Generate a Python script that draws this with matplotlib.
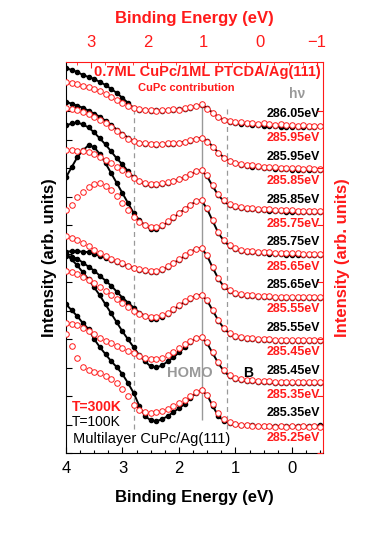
import matplotlib.pyplot as plt
from matplotlib.ticker import MultipleLocator

plt.rcParams["font.family"] = ["Liberation Sans", "DejaVu Sans"]

# binding energy grid (eV) of the sampled points
energy = [4.0, 3.9, 3.8, 3.7, 3.6, 3.5, 3.4, 3.3, 3.2, 3.1, 3.0, 2.9, 2.8, 2.7, 2.6,
          2.5, 2.4, 2.3, 2.2, 2.1, 2.0, 1.9, 1.8, 1.7, 1.6, 1.5, 1.4, 1.3, 1.2, 1.1,
          1.0, 0.9, 0.8, 0.7, 0.6, 0.5, 0.4, 0.3, 0.2, 0.1, 0.0, -0.1, -0.2, -0.3,
          -0.4, -0.5]

# photon energies, black = T=100K, red = T=300K
hv_black = ["286.05eV", "285.95eV", "285.85eV", "285.75eV",
            "285.65eV", "285.55eV", "285.45eV", "285.35eV"]
hv_red = ["285.95eV", "285.85eV", "285.75eV", "285.65eV",
          "285.55eV", "285.45eV", "285.35eV", "285.25eV"]

# vertical offset of each pair (arb. units)
offsets = [11.44, 9.94, 8.44, 6.94, 5.44, 3.94, 2.44, 0.94]

# intensities relative to the flat tail (arb. units x 28.5)
black_1 = [59, 57, 55, 52, 50, 48, 45, 42, 38, 34, 29, 24, 19, 17, 17, 16, 17, 16, 17, 17,
           18, 18, 19, 21, 22, 19, 14, 10, 7, 5, 4, 3, 3, 2, 2, 1, 1, 1, 0, 0, 0, 0, 0, 0, 0, 1]
red_1 = [45, 44, 43, 41, 40, 38, 36, 33, 30, 27, 24, 21, 19, 18, 17, 17, 16, 17, 17, 18,
         17, 19, 20, 21, 23, 18, 14, 10, 7, 6, 5, 5, 4, 4, 3, 4, 3, 2, 3, 2, 2, 1, 2, 1, 1, 1]
black_2 = [68, 66, 64, 62, 59, 56, 53, 49, 45, 40, 36, 32, 29, 27, 26, 26, 25, 26, 26, 26,
           27, 28, 29, 31, 32, 29, 23, 17, 12, 9, 7, 5, 4, 3, 3, 2, 2, 1, 1, 1, 0, 0, 0, 0, 0, 0]
red_2 = [62, 61, 60, 58, 56, 53, 50, 47, 43, 39, 35, 31, 29, 27, 27, 26, 26, 26, 27, 27,
         27, 28, 30, 31, 32, 28, 23, 17, 12, 9, 7, 6, 5, 5, 4, 3, 3, 3, 2, 2, 2, 2, 1, 2, 1, 1]
black_3 = [87, 89, 90, 88, 85, 80, 74, 68, 61, 54, 48, 41, 35, 31, 28, 27, 27, 28, 29, 31,
           33, 35, 38, 41, 42, 36, 26, 17, 11, 7, 5, 4, 3, 3, 2, 2, 1, 1, 1, 0, 0, 0, 0, 0, 0, 0]
red_3 = [62, 62, 61, 61, 60, 58, 55, 52, 49, 45, 42, 38, 34, 31, 29, 28, 28, 29, 30, 31,
         33, 35, 38, 41, 42, 37, 27, 18, 12, 8, 6, 5, 4, 4, 3, 3, 3, 2, 2, 2, 2, 1, 1, 1, 1, 1]
black_4 = [78, 88, 98, 105, 110, 108, 101, 92, 82, 72, 62, 52, 42, 35, 30, 26, 26, 29, 33, 37,
           42, 46, 50, 54, 55, 46, 34, 22, 14, 9, 6, 4, 3, 3, 2, 2, 1, 1, 1, 0, 0, 0, 0, 0, 0, 0]
red_4 = [45, 50, 58, 63, 68, 71, 72, 69, 65, 59, 52, 45, 38, 33, 30, 28, 28, 30, 34, 38,
         42, 46, 50, 54, 55, 47, 35, 23, 15, 10, 7, 5, 4, 4, 3, 3, 3, 2, 2, 2, 2, 2, 1, 1, 1, 1]
black_5 = [46, 47, 47, 46, 46, 44, 42, 40, 38, 36, 34, 32, 30, 28, 27, 26, 26, 28, 31, 35,
           38, 42, 46, 49, 50, 42, 30, 19, 11, 7, 4, 3, 2, 2, 1, 1, 1, 0, 0, 0, 0, 0, 0, 0, 0, 0]
red_5 = [62, 60, 58, 55, 52, 48, 45, 42, 39, 37, 35, 32, 30, 29, 28, 27, 27, 29, 32, 35,
         39, 43, 46, 49, 50, 43, 31, 20, 12, 8, 5, 4, 3, 3, 2, 2, 2, 1, 1, 1, 1, 1, 1, 1, 1, 1]
black_6 = [85, 84, 82, 78, 74, 70, 65, 60, 55, 49, 43, 38, 33, 28, 25, 22, 22, 24, 27, 31,
           35, 39, 42, 45, 46, 40, 30, 20, 12, 7, 4, 3, 2, 2, 1, 1, 1, 0, 0, 0, 0, 0, 0, 0, 0, 0]
red_6 = [70, 69, 67, 64, 61, 58, 54, 50, 46, 42, 38, 34, 30, 27, 25, 24, 24, 26, 28, 32,
         36, 40, 43, 45, 46, 41, 31, 21, 13, 8, 5, 4, 3, 3, 2, 2, 2, 1, 1, 1, 1, 1, 1, 1, 1, 1]
black_7 = [129, 124, 118, 111, 104, 96, 88, 79, 70, 61, 52, 44, 36, 28, 22, 17, 16, 18, 22, 26,
           31, 36, 41, 45, 46, 40, 30, 20, 12, 7, 4, 3, 2, 2, 1, 1, 1, 0, 0, 0, 0, 0, 0, 0, 0, 0]
red_7 = [60, 59, 58, 55, 52, 49, 45, 42, 40, 37, 35, 32, 30, 27, 25, 24, 24, 25, 28, 31,
         35, 39, 42, 45, 46, 41, 31, 21, 13, 8, 5, 4, 3, 3, 2, 2, 2, 1, 1, 1, 1, 1, 1, 1, 1, 1]
black_8 = [122, 116, 110, 103, 97, 87, 79, 72, 65, 59, 52, 43, 33, 20, 10, 6, 5, 7, 10, 14,
           18, 22, 28, 33, 36, 31, 20, 10, 5, 3, 2, 1, 1, 1, 0, 0, 0, 0, 0, 0, 0, 0, 0, 0, 0, 1]
red_8 = [92, 80, 68, 59, 56, 54, 53, 50, 47, 43, 37, 30, 21, 16, 14, 13, 14, 15, 17, 20,
         23, 26, 30, 34, 36, 31, 22, 13, 7, 4, 2, 1, 1, 0, 0, 0, 0, -1, 0, -1, 0, -1, 0, -1, 0, -1]

black_curves = [black_1, black_2, black_3, black_4, black_5, black_6, black_7, black_8]
red_curves = [red_1, red_2, red_3, red_4, red_5, red_6, red_7, red_8]

SCALE = 1 / 28.5
RED = "#ff1a1a"
GRAY = "#999999"


def main():
    fig = plt.figure(figsize=(3.74, 5.45), dpi=100)
    ax = fig.add_axes([0.1765, 0.1688, 0.687, 0.7174])

    for off, blk, red in zip(offsets, black_curves, red_curves):
        ax.plot(energy, [off + v * SCALE for v in blk], color="black", lw=1.4,
                marker="o", ms=3.0, mec="black", mfc="black", zorder=3)
        ax.plot(energy, [off + v * SCALE for v in red], ls="none", marker="o",
                ms=4.0, mfc="white", mec=RED, mew=0.7, zorder=4)

    # guide lines
    ax.vlines([2.8, 1.15], 0.85, 12.1, colors=GRAY, linestyles=(0, (4, 3)), lw=0.9, zorder=1)
    ax.vlines([1.6], 1.15, 12.35, colors=GRAY, lw=1.0, zorder=1)

    ax.set_xlim(4.0, -0.55)
    ax.set_ylim(0, 13.72)
    ax.xaxis.set_minor_locator(MultipleLocator(0.25))
    ax.yaxis.set_major_locator(MultipleLocator(1))
    ax.set_yticklabels([])
    ax.tick_params(axis="both", which="both", direction="in", top=False, right=False,
                   labelsize=12, width=0.8)
    ax.tick_params(axis="x", pad=6)
    ax.tick_params(which="major", length=4)
    ax.tick_params(which="minor", length=2.5)
    ax.set_xticks([4, 3, 2, 1, 0])
    ax.set_xlabel("Binding Energy (eV)", fontsize=12, fontweight="bold", labelpad=10)
    ax.set_ylabel("Intensity (arb. units)", fontsize=12, fontweight="bold", labelpad=3)
    ax.spines["top"].set_color(RED)
    ax.spines["right"].set_color(RED)

    # top axis, shifted energy scale
    top = ax.twiny()
    top.set_xlim(3.44, -1.11)
    top.set_xticks([3, 2, 1, 0, -1])
    top.xaxis.set_minor_locator(MultipleLocator(0.25))
    top.tick_params(axis="x", which="both", direction="in", colors=RED, labelsize=12, pad=9)
    top.tick_params(which="major", length=4)
    top.tick_params(which="minor", length=2.5)
    top.set_xlabel("Binding Energy (eV)", fontsize=12, fontweight="bold", color=RED, labelpad=8)
    for s in top.spines.values():
        s.set_visible(False)

    # right axis
    right = ax.twinx()
    right.set_ylim(0, 13.72)
    right.yaxis.set_major_locator(MultipleLocator(2))
    right.set_yticklabels([])
    right.tick_params(axis="y", direction="in", colors=RED, length=4)
    right.set_ylabel("Intensity (arb. units)", fontsize=12, fontweight="bold", color=RED,
                     labelpad=5)
    for s in right.spines.values():
        s.set_visible(False)

    # annotations
    for off, lb, lr in zip(offsets, hv_black, hv_red):
        ax.text(-0.5, off + 0.45, lb, fontsize=9, fontweight="bold", ha="right", va="center",
                zorder=5)
        ax.text(-0.5, off - 0.4, lr, fontsize=9, fontweight="bold", color=RED, ha="right",
                va="center", zorder=5)
    ax.text(0.551, 0.974, "0.7ML CuPc/1ML PTCDA/Ag(111)", transform=ax.transAxes,
            fontsize=10.5, fontweight="bold", color=RED, ha="center", va="center")
    ax.text(0.467, 0.934, "CuPc contribution", transform=ax.transAxes, fontsize=8,
            fontweight="bold", color=RED, ha="center", va="center")
    ax.text(0.899, 0.918, "h\u03bd", transform=ax.transAxes, fontsize=10,
            fontweight="bold", color=GRAY, ha="center", va="center")
    ax.text(0.482, 0.205, "HOMO", transform=ax.transAxes, fontsize=10.5,
            fontweight="bold", color=GRAY, ha="center", va="center")
    ax.text(0.708, 0.205, "B", transform=ax.transAxes, fontsize=10,
            fontweight="bold", ha="center", va="center")
    ax.text(0.023, 0.118, "T=300K", transform=ax.transAxes, fontsize=10,
            fontweight="bold", color=RED, ha="left", va="center")
    ax.text(0.023, 0.079, "T=100K", transform=ax.transAxes, fontsize=10,
            ha="left", va="center")
    ax.text(0.026, 0.018, "Multilayer CuPc/Ag(111)", transform=ax.transAxes, fontsize=10.5,
            ha="left", va="bottom")

    fig.savefig("out.png", dpi=100)
    plt.close(fig)


if __name__ == "__main__":
    main()
